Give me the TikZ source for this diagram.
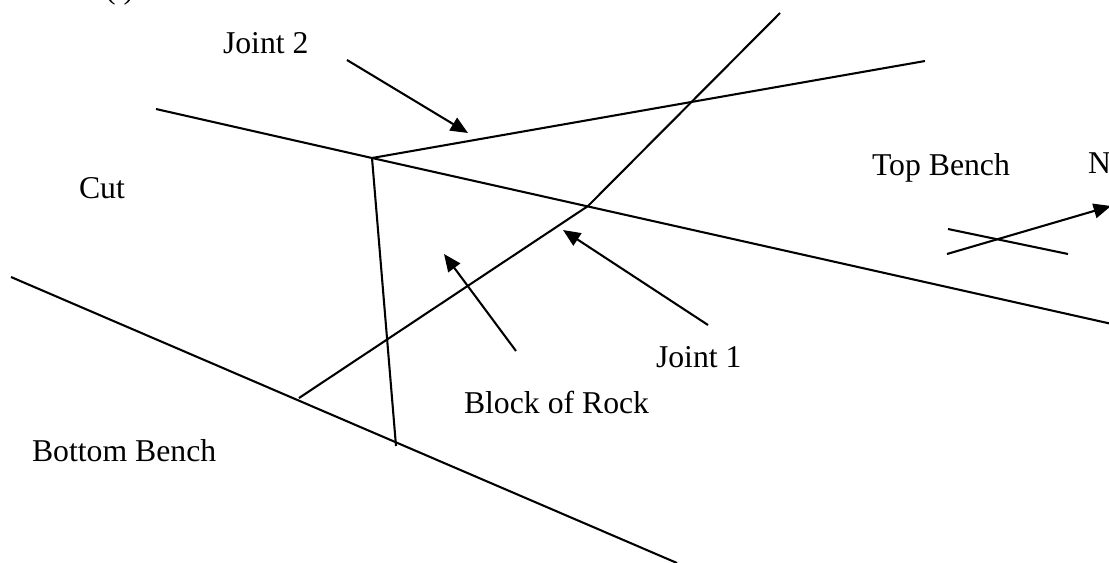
\documentclass[tikz,border=0pt]{standalone}
\usepackage{fontspec}
\setmainfont{Liberation Serif}
\usetikzlibrary{arrows.meta}
\tikzset{
  x=0.75pt,y=-0.75pt,
  lbl/.style={anchor=base west,inner sep=0pt,outer sep=0pt,font=\fontsize{23.8pt}{26pt}\selectfont},
  ln/.style={line width=1.55pt,black},
  arr/.style={ln,-{Triangle[length=13pt,width=11pt]}}
}
\begin{document}
\begin{tikzpicture}
\useasboundingbox (0,0) rectangle (1109,562);
\clip (0,0) rectangle (1109,562);
\coordinate (mainL) at (156,109);
\coordinate (apex) at (372,158);
\coordinate (mainR) at (1112,324);
\coordinate (j2R) at (925,61);
\coordinate (j1L) at (299,398);
\coordinate (j1M) at (588,206);
\coordinate (j1T) at (780,13);
\coordinate (vB) at (396,446);
\coordinate (botL) at (11,277);
\coordinate (botR) at (677,563);
\coordinate (a1s) at (347,60);
\coordinate (a1e) at (468,133);
\coordinate (a2s) at (708,325);
\coordinate (a2e) at (563,230);
\coordinate (a3s) at (516,351);
\coordinate (a3e) at (444,254);
\coordinate (ns) at (947,254);
\coordinate (ne) at (1111,206);
\coordinate (cs) at (948,229);
\coordinate (ce) at (1068,254);
\draw[ln] (mainL) -- (apex) -- (mainR);
\draw[ln] (apex) -- (j2R);
\draw[ln] (j1L) -- (j1M) -- (j1T);
\draw[ln] (apex) -- (vB);
\draw[ln] (botL) -- (botR);
\draw[ln] (cs) -- (ce);
\draw[arr] (a1s) -- (a1e);
\draw[arr] (a2s) -- (a2e);
\draw[arr] (a3s) -- (a3e);
\draw[arr] (ns) -- (ne);
\node[lbl] (paren) at (105,-2) {(\hspace{6pt})};
\node[lbl] (j2) at (223,53) {Joint 2};
\node[lbl] (cut) at (79,198) {Cut};
\node[lbl] (top) at (872,175) {Top Bench};
\node[lbl] (n) at (1088,173) {N};
\node[lbl] (j1) at (656,367) {Joint 1};
\node[lbl] (block) at (464,413) {Block of Rock};
\node[lbl] (bot) at (32,461) {Bottom Bench};
\end{tikzpicture}
\end{document}
